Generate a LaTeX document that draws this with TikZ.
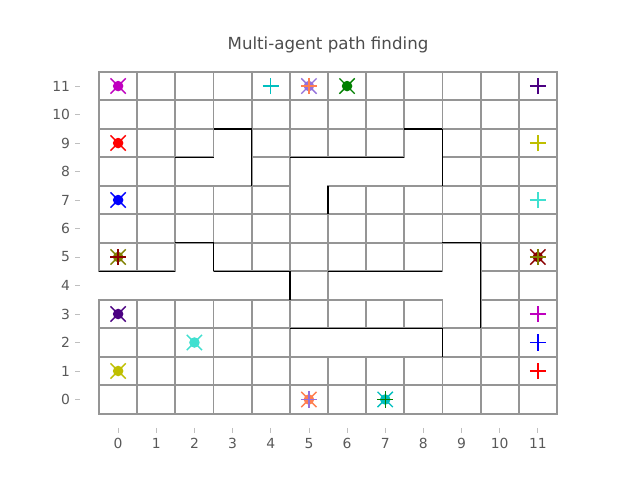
\documentclass[tikz,border=0pt]{standalone}
\usepackage{fontspec}
\setmainfont{DejaVu Sans}
\definecolor{mplm}{HTML}{BF00BF}
\definecolor{mplc}{HTML}{00BFBF}
\definecolor{mply}{HTML}{BFBF00}
\definecolor{mplg}{HTML}{008000}
\definecolor{mplr}{HTML}{FF0000}
\definecolor{mplb}{HTML}{0000FF}
\definecolor{mpurple}{HTML}{9370DB}
\definecolor{olivec}{HTML}{808000}
\definecolor{dred}{HTML}{8B0000}
\definecolor{indigoc}{HTML}{4B0082}
\definecolor{turq}{HTML}{40E0D0}
\definecolor{coralc}{HTML}{FF7F50}
\definecolor{cellgray}{HTML}{959595}
\begin{document}
\begin{tikzpicture}[x=27.48pt, y=20.52pt]
  \tikzset{
    cellbox/.style={draw=cellgray, line width=1.3pt, fill=white},
    wall/.style={black, line width=1pt},
    ticklbl/.style={text=black!65, font=\fontsize{10}{12}\selectfont, inner sep=0pt},
    tickmark/.style={black!25, line width=0.6pt},
    startdot/.style={line width=1pt}
  }
  \useasboundingbox (-3.096,-2.853) rectangle (13.677,14.021);

  % free cells, row by row
  \foreach \r/\cols in {11/{0,...,11}, 10/{0,...,11}, 9/{0,1,2,4,5,6,7,9,10,11},
      8/{0,1,4,9,10,11}, 7/{0,1,2,3,4,6,7,8,9,10,11}, 6/{0,...,11},
      5/{0,1,3,4,5,6,7,8,10,11}, 4/{5,10,11}, 3/{0,1,2,3,4,5,6,7,8,10,11},
      2/{0,1,2,3,4,9,10,11}, 1/{0,...,11}, 0/{0,...,11}}
    \foreach \c in \cols
      \draw[cellbox] (\c-0.5,\r-0.5) rectangle (\c+0.5,\r+0.5);

  % walls: top and right edges of the blocked cells
  \foreach \c/\r in {3/9, 8/9, 2/8, 5/8, 6/8, 7/8, 2/5, 9/5, 0/4, 1/4, 3/4, 4/4,
      6/4, 7/4, 8/4, 5/2, 6/2, 7/2, 8/2}
    \draw[wall] (\c-0.5,\r+0.5) -- (\c+0.5,\r+0.5);
  \foreach \c/\r in {3/9, 8/9, 3/8, 8/8, 5/7, 2/5, 9/5, 4/4, 9/4, 9/3, 8/2}
    \draw[wall] (\c+0.5,\r-0.5) -- (\c+0.5,\r+0.5);

  % agents: colour / start / goal
  \foreach \col/\sx/\sy in {mplm/0/11, mpurple/5/11, mplg/6/11, mplr/0/9, mplb/0/7,
      olivec/0/5, dred/11/5, indigoc/0/3, turq/2/2, mply/0/1, coralc/5/0, mplc/7/0} {
    \fill[\col] (\sx,\sy) circle (3.8pt);
    \draw[\col, startdot] ([shift={(-5.5pt,-5.5pt)}]\sx,\sy) -- ([shift={(5.5pt,5.5pt)}]\sx,\sy);
    \draw[\col, startdot] ([shift={(-5.5pt,5.5pt)}]\sx,\sy) -- ([shift={(5.5pt,-5.5pt)}]\sx,\sy);
  }
  \foreach \col/\gx/\gy in {mplm/11/3, mpurple/5/0, mplg/7/0, mplr/11/1, mplb/11/2,
      olivec/11/5, dred/0/5, indigoc/11/11, turq/11/7, mply/11/9, coralc/5/11, mplc/4/11} {
    \draw[\col, startdot] ([xshift=-5.8pt]\gx,\gy) -- ([xshift=5.8pt]\gx,\gy);
    \draw[\col, startdot] ([yshift=-5.8pt]\gx,\gy) -- ([yshift=5.8pt]\gx,\gy);
  }

  % ticks and labels
  \foreach \i in {0,...,11} {
    \draw[tickmark] (\i,-1) -- ([yshift=-3.5pt]\i,-1);
    \node[ticklbl, anchor=north] (xl\i) at ([yshift=-7pt]\i,-1) {\i};
    \draw[tickmark] (-1,\i) -- ([xshift=-3.5pt]-1,\i);
    \node[ticklbl, anchor=east] (yl\i) at ([xshift=-7pt]-1,\i) {\i};
  }
  \node[anchor=base, text=black!70, font=\fontsize{12}{14}\selectfont, inner sep=0pt]
    (title) at ([yshift=6pt]5.5,12) {Multi-agent path finding};
\end{tikzpicture}
\end{document}
